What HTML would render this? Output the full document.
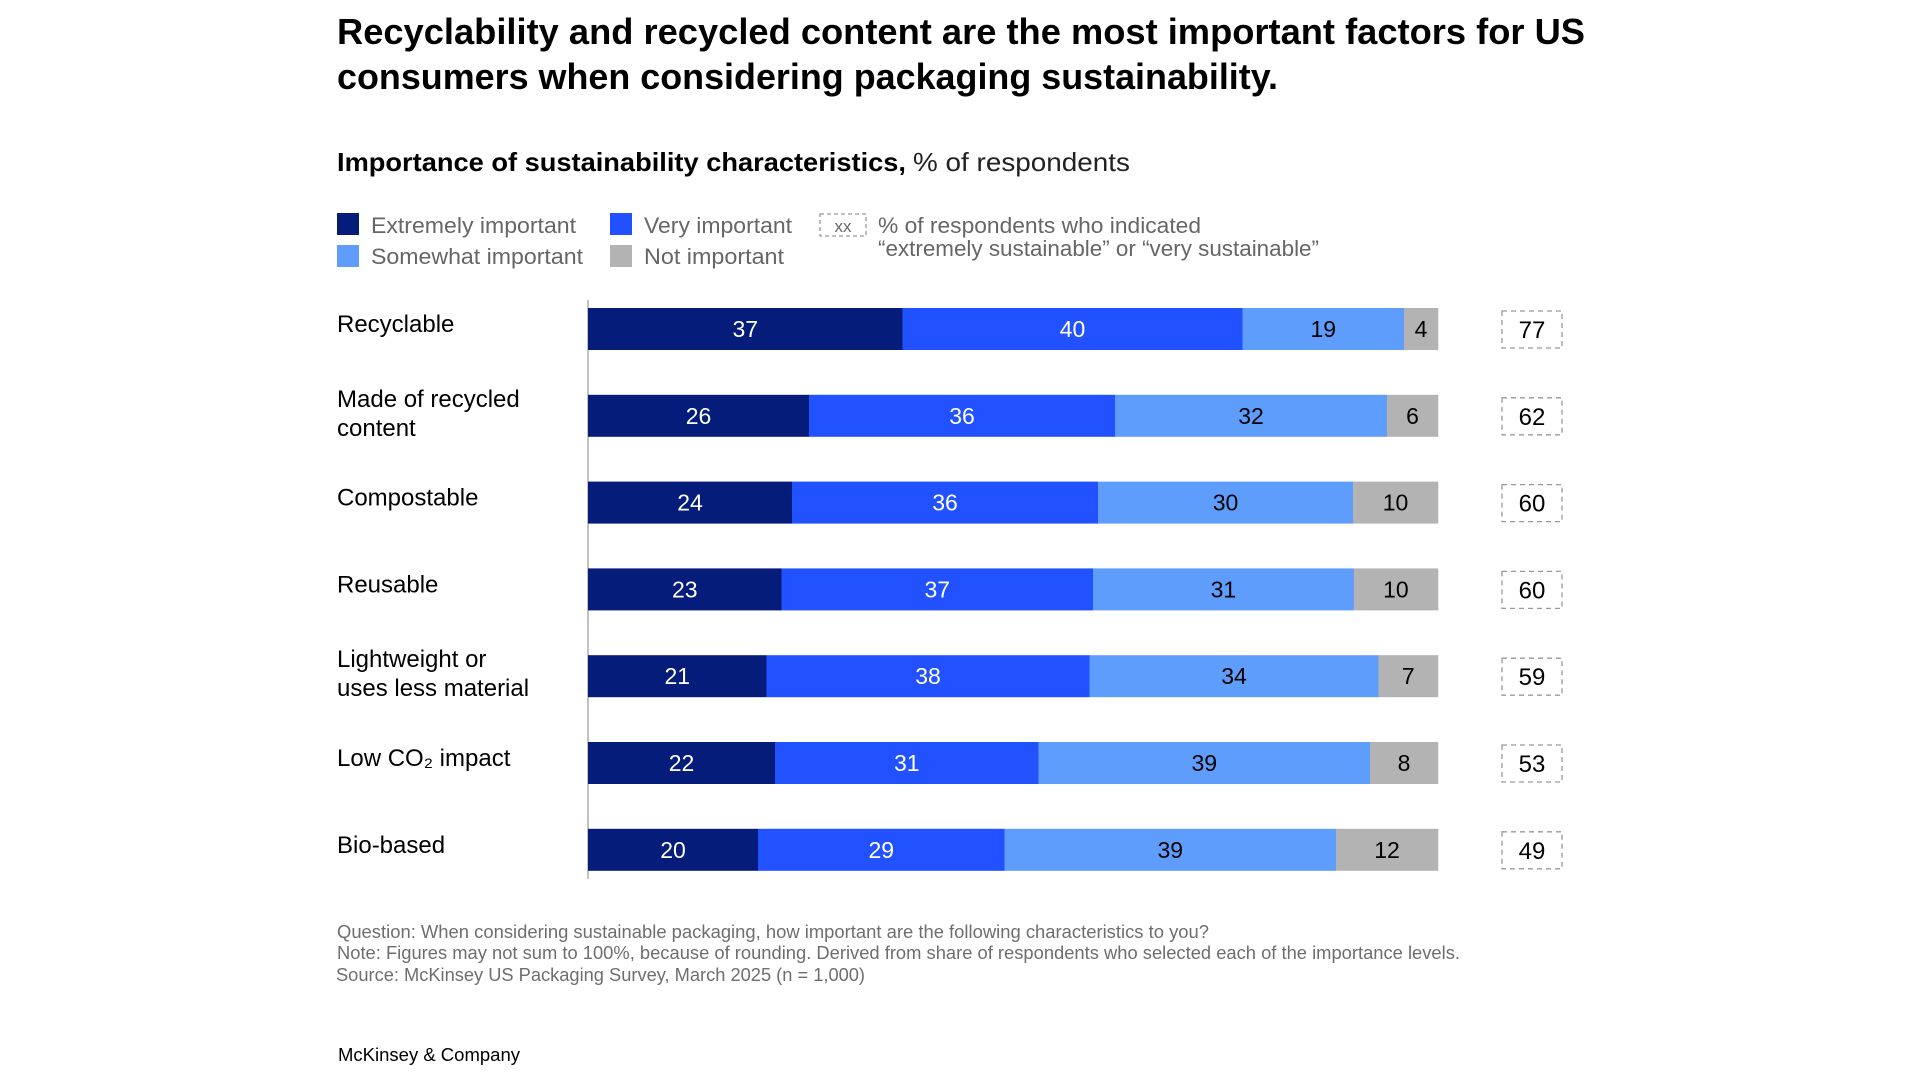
<!DOCTYPE html>
<html><head><meta charset="utf-8"><style>
html,body{margin:0;padding:0;background:#fff;}
svg{display:block;font-family:"Liberation Sans",sans-serif;}
</style></head><body>
<svg id="chart" width="1920" height="1080" viewBox="0 0 1920 1080">
<g font-weight="bold" font-size="36" fill="#000">
<text x="337" y="44" textLength="1248" lengthAdjust="spacingAndGlyphs">Recyclability and recycled content are the most important factors for US</text>
<text x="337" y="89" textLength="941" lengthAdjust="spacingAndGlyphs">consumers when considering packaging sustainability.</text>
</g>
<text x="337" y="171" font-size="26" font-weight="bold" fill="#000" textLength="569" lengthAdjust="spacingAndGlyphs">Importance of sustainability characteristics,</text>
<text x="913" y="171" font-size="26" fill="#222" textLength="217" lengthAdjust="spacingAndGlyphs">% of respondents</text>
<g font-size="22" fill="#666">
<rect x="337" y="213" width="22" height="22" fill="#051c7a"/>
<text x="371" y="233" textLength="205" lengthAdjust="spacingAndGlyphs">Extremely important</text>
<rect x="610" y="213" width="22" height="22" fill="#2251ff"/>
<text x="644" y="233" textLength="148" lengthAdjust="spacingAndGlyphs">Very important</text>
<rect x="337" y="245" width="22" height="22" fill="#5f9dfd"/>
<text x="371" y="264" textLength="212" lengthAdjust="spacingAndGlyphs">Somewhat important</text>
<rect x="610" y="245" width="22" height="22" fill="#b3b3b3"/>
<text x="644" y="264" textLength="140" lengthAdjust="spacingAndGlyphs">Not important</text>
<rect x="820" y="214" width="46" height="22" fill="none" stroke="#999" stroke-width="1.3" stroke-dasharray="4,3"/>
<text x="843" y="232" text-anchor="middle" font-size="17" fill="#666">xx</text>
<text x="878" y="233" textLength="323" lengthAdjust="spacingAndGlyphs">% of respondents who indicated</text>
<text x="878" y="256" textLength="441" lengthAdjust="spacingAndGlyphs">“extremely sustainable” or “very sustainable”</text>
</g>
<g id="plot"></g>
<g font-size="18" fill="#6e6e6e">
<text x="337" y="938" textLength="872" lengthAdjust="spacingAndGlyphs">Question: When considering sustainable packaging, how important are the following characteristics to you?</text>
<text x="337" y="959" textLength="1123" lengthAdjust="spacingAndGlyphs">Note: Figures may not sum to 100%, because of rounding. Derived from share of respondents who selected each of the importance levels.</text>
<text x="336" y="981" textLength="529" lengthAdjust="spacingAndGlyphs">Source: McKinsey US Packaging Survey, March 2025 (n = 1,000)</text>
</g>
<text x="338" y="1061" font-size="18" fill="#000" textLength="182" lengthAdjust="spacingAndGlyphs">McKinsey &amp; Company</text>
</svg>
<script>
const categories = [["Recyclable"],["Made of recycled","content"],["Compostable"],["Reusable"],["Lightweight or","uses less material"],["Low CO₂ impact"],["Bio-based"]];
const extremely = [37,26,24,23,21,22,20];
const very = [40,36,36,37,38,31,29];
const somewhat = [19,32,30,31,34,39,39];
const notImportant = [4,6,10,10,7,8,12];
const sustainableShare = [77,62,60,60,59,53,49];

const NS = "http://www.w3.org/2000/svg";
const plot = document.getElementById("plot");
const x0 = 588, plotW = 850, rowTop = 329, rowStep = 86.8, barH = 42;
const series = [
  {vals: extremely, fill: "#051c7a", text: "#fff", name: "extremely"},
  {vals: very, fill: "#2251ff", text: "#fff", name: "very"},
  {vals: somewhat, fill: "#5f9dfd", text: "#000", name: "somewhat"},
  {vals: notImportant, fill: "#b3b3b3", text: "#000", name: "not"}
];
function yCenter(i){ return rowTop + i*rowStep; }
function mk(tag, attrs){ const e=document.createElementNS(NS,tag); for(const k in attrs) e.setAttribute(k, attrs[k]); return e; }

const axis = mk("line",{x1:x0,x2:x0,y1:300,y2:879,stroke:"#999","stroke-width":1.2});


plot.appendChild(axis);

categories.forEach((lab, i) => {
  const cy = yCenter(i);
  const total = series.reduce((s, se) => s + se.vals[i], 0);
  const xs = v => v / total * plotW;
  const label = mk("text",{x:337,"font-size":24,fill:"#000"});
  
  
  if (lab.length === 1) {
    label.setAttribute("y", cy + 3); label.textContent = lab[0];
  } else {
    lab.forEach((l, j) => { const t = mk("tspan",{x:337,y: cy - 9 + j*29}); t.textContent = l; label.appendChild(t); });
  }
  plot.appendChild(label);
  let cx = x0;
  series.forEach(se => {
    const w = xs(se.vals[i]);
    const r = mk("rect",{x:cx,y:cy-barH/2,width:w+0.3,height:barH,fill:se.fill});
    
    
    plot.appendChild(r);
    const t = mk("text",{x:cx+w/2,y:cy+8,"text-anchor":"middle","font-size":23,fill:se.text});
    
    
    t.textContent = se.vals[i];
    plot.appendChild(t);
    cx += w;
  });
  const b = mk("rect",{x:1502,y:cy-18,width:60,height:37,fill:"none",stroke:"#999","stroke-width":1.3,"stroke-dasharray":"5,4"});
  
  
  plot.appendChild(b);
  const bt = mk("text",{x:1532,y:cy+9,"text-anchor":"middle","font-size":24,fill:"#000"});
  
  
  bt.textContent = sustainableShare[i];
  plot.appendChild(bt);
});
</script>
</body></html>
